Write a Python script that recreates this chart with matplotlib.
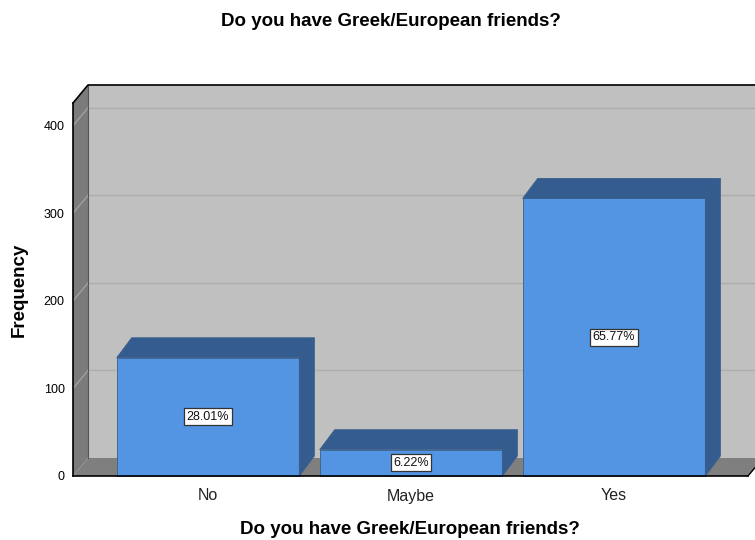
import matplotlib
matplotlib.use("Agg")
import matplotlib.pyplot as plt
from matplotlib.patches import Polygon

categories = ["No", "Maybe", "Yes"]
counts = [135, 30, 317]
percent_labels = ["28.01%", "6.22%", "65.77%"]
yticks = [0, 100, 200, 300, 400]

title = "Do you have Greek/European friends?"
xlabel = "Do you have Greek/European friends?"
ylabel = "Frequency"

FONT = ["Liberation Sans", "DejaVu Sans"]
plt.rcParams["font.family"] = FONT

fig = plt.figure(figsize=(7.55, 5.40), dpi=100)
ax = fig.add_axes([73 / 755, (540 - 476) / 540, (748 - 73) / 755, (476 - 103) / 540])

xl, xr = -0.665, 2.66
ymax = 426
ax.set_xlim(xl, xr)
ax.set_ylim(0, ymax)

# depth offsets (data units)
dx = 15 / 203
dyw = 18 / 0.875
dyb = 20 / 0.875

kw = dict(clip_on=False)
# back wall
ax.add_patch(Polygon([(xl + dx, dyw), (xr + dx, dyw), (xr + dx, ymax + dyw), (xl + dx, ymax + dyw)],
                     closed=True, facecolor="#c0c0c0", edgecolor="none", zorder=0, **kw))
# left wall
ax.add_patch(Polygon([(xl, 0), (xl + dx, dyw), (xl + dx, ymax + dyw), (xl, ymax)],
                     closed=True, facecolor="#7b7b7b", edgecolor="none", zorder=0.5, **kw))
# floor
ax.add_patch(Polygon([(xl, 0), (xr, 0), (xr + dx, dyw), (xl + dx, dyw)],
                     closed=True, facecolor="#7f7f7f", edgecolor="none", zorder=0.5, **kw))
# gridlines
for t in yticks[1:]:
    ax.plot([xl, xl + dx], [t, t + dyw], color="#a0a0a0", lw=1.0, zorder=0.8, **kw)
    ax.plot([xl + dx, xr + dx], [t + dyw, t + dyw], color="#adadad", lw=1.0, zorder=0.8, **kw)

# frame lines
ax.plot([xl + dx, xl + dx], [dyw, ymax + dyw], color="#555555", lw=0.8, zorder=0.9, **kw)
ax.plot([xl, xl], [0, ymax], color="black", lw=1.2, zorder=3, **kw)
ax.plot([xl, xr], [0, 0], color="black", lw=1.2, zorder=3, **kw)
ax.plot([xl, xl + dx, xr + dx], [ymax, ymax + dyw, ymax + dyw], color="black", lw=1.2, zorder=3, **kw)
ax.plot([xr, xr + dx], [0, dyw], color="black", lw=1.0, zorder=3, **kw)

# bars
w = 0.9
front = "#5394e3"
dark = "#345c8f"
edge = "#3b5f8c"
xs = list(range(len(categories)))
ax.bar(xs, counts, width=w, color=front, edgecolor=edge, linewidth=0.6, zorder=2, **kw)
for x, v in zip(xs, counts):
    l, r = x - w / 2, x + w / 2
    ax.add_patch(Polygon([(l, v), (r, v), (r + dx, v + dyb), (l + dx, v + dyb)], closed=True,
                         facecolor=dark, edgecolor=edge, linewidth=0.6, zorder=2, **kw))
    ax.add_patch(Polygon([(r, 0), (r + dx, dyb), (r + dx, v + dyb), (r, v)], closed=True,
                         facecolor=dark, edgecolor=edge, linewidth=0.6, zorder=2, **kw))

for x, v, lab in zip(xs, counts, percent_labels):
    ax.text(x, v / 2, lab, ha="center", va="center", fontsize=9, color="#111111", zorder=5,
            bbox=dict(boxstyle="square,pad=0.2", facecolor="white", edgecolor="#333333", linewidth=0.9))

for s in ax.spines.values():
    s.set_visible(False)
ax.set_xticks(xs)
ax.set_xticklabels(categories, fontsize=11.5, color="#222222")
ax.set_yticks(yticks)
ax.set_yticklabels([str(t) for t in yticks], fontsize=9, color="black")
ax.tick_params(axis="x", length=0, pad=9)
ax.tick_params(axis="y", length=0, pad=6)
ax.set_facecolor("none")

fig.text(391 / 755, 1 - 22 / 540, title, ha="center", va="center", fontsize=13.5, fontweight="bold")
fig.text(410 / 755, 1 - 530 / 540, xlabel, ha="center", va="center", fontsize=13.5, fontweight="bold")
fig.text(19 / 755, 1 - 290 / 540, ylabel, ha="center", va="center", rotation=90, fontsize=13.5, fontweight="bold")

fig.savefig("out.png", dpi=100)
